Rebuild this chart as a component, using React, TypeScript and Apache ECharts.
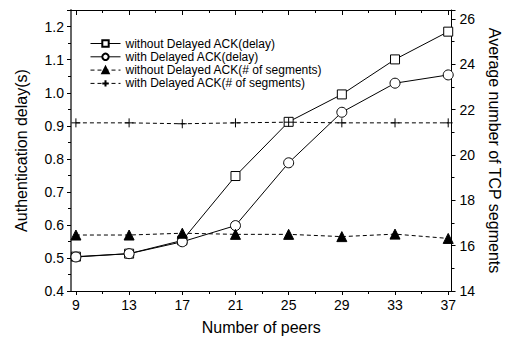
import React, { useEffect, useRef } from "react";
import * as echarts from "echarts";

const peers = [9, 13, 17, 21, 25, 29, 33, 37];
const minorPeers = [11, 15, 19, 23, 27, 31, 35];
const noDelayAckDelay = [0.504, 0.513, 0.553, 0.748, 0.912, 0.995, 1.101, 1.185];
const delayAckDelay = [0.503, 0.513, 0.549, 0.598, 0.788, 0.941, 1.029, 1.054];
const noDelayAckSeg = [16.47, 16.47, 16.55, 16.5, 16.5, 16.4, 16.51, 16.32];
const delayAckSeg = [21.42, 21.42, 21.38, 21.42, 21.45, 21.42, 21.42, 21.42];
const seriesNames = [
  "without Delayed ACK(delay)",
  "with Delayed ACK(delay)",
  "without Delayed ACK(# of segments)",
  "with Delayed ACK(# of segments)",
];

const FONT = "Liberation Sans, Arial, sans-serif";
const zip = (xs: number[], ys: number[]) => xs.map((x, i) => [x, ys[i]]);

export default function App() {
  const ref = useRef<HTMLDivElement>(null);
  useEffect(() => {
    if (!ref.current) return;
    const chart = echarts.init(ref.current, undefined, { renderer: "svg" });
    const xBase = {
      type: "value" as const,
      min: 8.63,
      max: 37.25,
      splitLine: { show: false },
    };
    chart.setOption({
      animation: false,
      backgroundColor: "#fff",
      grid: { left: 71, right: 57, top: 10, bottom: 56, containLabel: false },
      legend: {
        orient: "vertical",
        left: 85,
        top: 32,
        itemWidth: 30,
        itemHeight: 8,
        itemGap: 0.3,
        data: seriesNames,
        lineStyle: { width: 1 },
        textStyle: { fontFamily: FONT, fontSize: 12, lineHeight: 13, color: "#000" },
      },
      xAxis: [
        {
          ...xBase,
          position: "bottom",
          name: "Number of peers",
          nameLocation: "middle",
          nameGap: 28,
          nameTextStyle: { fontFamily: FONT, fontSize: 16, color: "#000", verticalAlign: "top" },
          axisLine: { show: true, onZero: false, lineStyle: { color: "#000", width: 1 } },
          axisTick: { show: true, inside: false, length: 4, customValues: peers, lineStyle: { color: "#000" } },
          axisLabel: { show: true, customValues: peers, fontFamily: FONT, fontSize: 14, color: "#000", margin: 7 },
        },
        {
          ...xBase,
          position: "bottom",
          axisLine: { show: false },
          axisTick: { show: true, inside: false, length: 3, customValues: minorPeers, lineStyle: { color: "#000" } },
          axisLabel: { show: false },
        },
        {
          ...xBase,
          position: "top",
          axisLine: { show: true, onZero: false, lineStyle: { color: "#000", width: 1 } },
          axisTick: { show: true, inside: true, length: 5, customValues: peers, lineStyle: { color: "#000" } },
          axisLabel: { show: false },
        },
        {
          ...xBase,
          position: "top",
          axisLine: { show: false },
          axisTick: { show: true, inside: true, length: 3, customValues: minorPeers, lineStyle: { color: "#000" } },
          axisLabel: { show: false },
        },
      ],
      yAxis: [
        {
          type: "value",
          position: "left",
          min: 0.4,
          max: 1.2505,
          interval: 0.1,
          name: "Authentication delay(s)",
          nameLocation: "middle",
          nameGap: 42,
          nameTextStyle: { fontFamily: FONT, fontSize: 16, color: "#000" },
          splitLine: { show: false },
          axisLine: { show: true, onZero: false, lineStyle: { color: "#666", width: 2 } },
          axisTick: { show: true, inside: false, length: 4, lineStyle: { color: "#000" } },
          minorTick: { show: true, splitNumber: 2, length: 3, lineStyle: { color: "#000" } },
          axisLabel: {
            fontFamily: FONT,
            fontSize: 14,
            color: "#000",
            margin: 7,
            showMaxLabel: false,
            formatter: (v: number) => v.toFixed(1),
          },
        },
        {
          type: "value",
          position: "right",
          min: 14,
          max: 26.4,
          interval: 2,
          name: "Average number of TCP segments",
          nameLocation: "middle",
          nameGap: 34,
          nameRotate: -90,
          nameTextStyle: { fontFamily: FONT, fontSize: 16, color: "#000" },
          splitLine: { show: false },
          axisLine: { show: true, onZero: false, lineStyle: { color: "#000", width: 1 } },
          axisTick: { show: true, inside: false, length: 4, lineStyle: { color: "#000" } },
          minorTick: { show: true, splitNumber: 2, length: 3, lineStyle: { color: "#000" } },
          axisLabel: { fontFamily: FONT, fontSize: 14, color: "#000", margin: 8, showMaxLabel: false },
        },
      ],
      series: [
        {
          name: seriesNames[0],
          type: "line",
          xAxisIndex: 0,
          yAxisIndex: 0,
          data: zip(peers, noDelayAckDelay),
          symbol: "rect",
          symbolSize: 9,
          lineStyle: { color: "#000", width: 1 },
          itemStyle: { color: "#fff", borderColor: "#000", borderWidth: 1 },
        },
        {
          name: seriesNames[1],
          type: "line",
          xAxisIndex: 0,
          yAxisIndex: 0,
          data: zip(peers, delayAckDelay),
          symbol: "circle",
          symbolSize: 10,
          lineStyle: { color: "#000", width: 1 },
          itemStyle: { color: "#fff", borderColor: "#000", borderWidth: 1 },
        },
        {
          name: seriesNames[2],
          type: "line",
          xAxisIndex: 0,
          yAxisIndex: 1,
          data: zip(peers, noDelayAckSeg),
          symbol: "triangle",
          symbolSize: 10,
          lineStyle: { color: "#000", width: 1, type: [4, 3] },
          itemStyle: { color: "#000", borderColor: "#000", borderWidth: 1 },
        },
        {
          name: seriesNames[3],
          type: "line",
          xAxisIndex: 0,
          yAxisIndex: 1,
          data: zip(peers, delayAckSeg),
          symbol: "path://M0,5L10,5M5,0L5,10",
          symbolSize: 9,
          lineStyle: { color: "#000", width: 1, type: [4, 3] },
          itemStyle: { color: "#000", borderColor: "#000", borderWidth: 1 },
        },
      ],
    });
    return () => chart.dispose();
  }, []);
  return <div ref={ref} style={{ width: 510, height: 347, position: "absolute", left: 0, top: 0 }} />;
}
